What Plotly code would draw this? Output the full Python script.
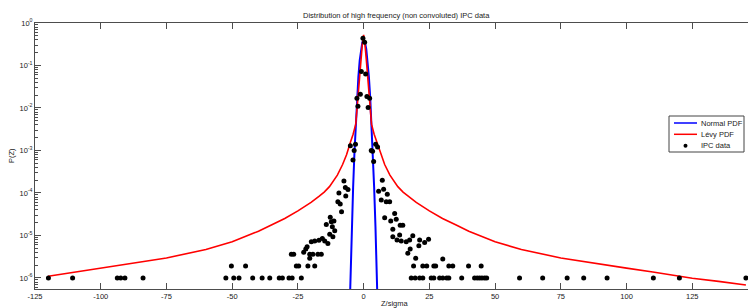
import plotly.graph_objects as go

# ---------------- data ----------------
# Normal PDF curve (Z/sigma, P)
normal_z = [-6, -5.5, -5, -4.5, -4, -3.5, -3, -2.5, -2, -1.5, -1, -0.5, 0,
            0.5, 1, 1.5, 2, 2.5, 3, 3.5, 4, 4.5, 5, 5.5, 6]
normal_p = [6.1e-9, 1.08e-7, 1.49e-6, 1.6e-5, 1.34e-4, 8.73e-4, 4.43e-3, 1.75e-2, 5.4e-2, 0.1295, 0.242, 0.352, 0.399,
            0.352, 0.242, 0.1295, 5.4e-2, 1.75e-2, 4.43e-3, 8.73e-4, 1.34e-4, 1.6e-5, 1.49e-6, 1.08e-7, 6.1e-9]

# Levy PDF curve (Z/sigma, P)
levy_z = [-120, -110, -100, -90, -75, -60, -50, -40, -35, -30, -25, -20, -17, -15, -13, -10, -8, -6.5, -5, -4, -3, -2, -1, -0.5, 0,
          0.5, 1, 2, 3, 4, 5, 6.5, 8, 10, 13, 15, 17, 20, 25, 30, 35, 40, 50, 60, 75, 90, 100, 110, 120, 125, 135, 145.4]
levy_p = [1.10e-6, 1.38e-6, 1.70e-6, 2.09e-6, 2.95e-6, 4.68e-6, 7.08e-6, 1.26e-5, 1.78e-5, 2.51e-5, 3.8e-5, 6.0e-5, 8.3e-5,
          1.05e-4, 1.41e-4, 2.63e-4, 4.68e-4, 7.94e-4, 1.58e-3, 2.40e-3, 4.17e-3, 2.82e-2, 0.141, 0.316, 0.525,
          0.316, 0.141, 2.82e-2, 4.17e-3, 2.40e-3, 1.58e-3, 7.94e-4, 4.68e-4, 2.63e-4, 1.41e-4, 1.05e-4, 8.3e-5,
          6.0e-5, 3.8e-5, 2.51e-5, 1.78e-5, 1.26e-5, 7.08e-6, 4.68e-6, 2.95e-6, 2.09e-6, 1.70e-6, 1.38e-6, 1.10e-6,
          9.8e-7, 8.3e-7, 6.8e-7]

# IPC data points
center_z = [-0.27, 0.38, -0.87, 0.76, -2.55, -1.25, -2.17, 1.25, 2.28, 1.71, -5.05, -3.1, -3.6, -4.07, 4.56, 5.3, 2.9, 3.4, 3.8]
center_p = [0.44, 0.35, 0.072, 0.063, 0.017, 0.021, 0.011, 0.0186, 0.017, 0.0103, 1.3e-3, 1.4e-3, 1.0e-3, 6e-4,
            1.4e-3, 1.2e-3, 1.0e-3, 9.6e-4, 5.5e-4]

left_z = [-7.5, -6.95, -5.96, -9.4, -6.8, -9.8, -8.9, -8.4, -12.7, -11.3, -12.3, -14.2, -11.9,
          -11.0, -12.9, -11.7, -13.6, -14.8, -15.7, -17.0, -18.6, -19.9, -21.5, -22.0, -22.8, -20.5,
          -27.5, -26.6, -20.5, -19.3, -17.4, -16.1,
          -25.6, -24.7, -21.2, -18.6, -50.3, -44.9,
          -42.2, -38.6, -35.7, -32.1, -30.9, -28.4, -27.2, -23.7,
          -119.9, -110.7, -93.7, -92.4, -90.8, -83.9, -52.4, -49.4, -47.4]
left_p = [1.9e-4, 1.35e-4, 1.2e-4, 1.0e-4, 8.5e-5, 6.2e-5, 5.5e-5, 3.6e-5, 2.7e-5, 2.2e-5, 2.1e-5, 1.8e-5, 1.6e-5,
          1.29e-5, 1.07e-5, 9.3e-6, 6.5e-6, 7.4e-6, 8.5e-6, 7.7e-6, 7.4e-6, 7.1e-6, 5.4e-6, 4.8e-6, 4.0e-6, 2.9e-6,
          3.6e-6, 3.6e-6, 3.6e-6, 3.6e-6, 3.6e-6, 3.6e-6,
          1.9e-6, 1.9e-6, 1.9e-6, 1.9e-6, 1.9e-6, 1.9e-6,
          1e-6, 1e-6, 1e-6, 1e-6, 1e-6, 1e-6, 1e-6, 1e-6,
          1e-6, 1e-6, 1e-6, 1e-6, 1e-6, 1e-6, 1e-6, 1e-6, 1e-6]

right_z = [7.1, 5.7, 7.6, 9.0, 6.7, 8.6, 9.9, 11.8, 8.0, 10.3, 12.4, 13.9, 14.9, 11.1,
           11.1, 13.7, 12.7, 14.3, 16.2, 17.5, 18.7, 17.7, 16.8, 21.3, 21.0, 23.2, 24.7, 19.8, 30.1,
           19.0, 22.5, 24.0, 26.7, 27.4, 32.4, 33.9, 39.9, 44.7,
           18.1, 19.6, 21.3, 22.5, 25.7, 26.7, 28.9, 30.1, 31.6, 32.4, 37.3, 42.2, 43.2, 44.1, 45.0, 46.0, 46.8,
           59.3, 68.1, 77.4, 83.7, 92.6, 110.2, 120.1, 145.4]
right_p = [2.0e-4, 1.1e-4, 1.23e-4, 9.3e-5, 6.8e-5, 6.2e-5, 6.2e-5, 3.3e-5, 2.6e-5, 2.2e-5, 2.4e-5, 1.74e-5, 1.74e-5, 1.4e-5,
           9.3e-6, 1.02e-5, 7.8e-6, 7.4e-6, 7.1e-6, 7.8e-6, 9.8e-6, 4.8e-6, 3.8e-6, 7.8e-6, 5.7e-6, 6.8e-6, 8.1e-6, 2.9e-6, 2.8e-6,
           1.9e-6, 1.9e-6, 1.9e-6, 1.9e-6, 1.9e-6, 1.9e-6, 1.9e-6, 1.9e-6, 1.9e-6,
           1e-6, 1e-6, 1e-6, 1e-6, 1e-6, 1e-6, 1e-6, 1e-6, 1e-6, 1e-6, 1e-6, 1e-6, 1e-6, 1e-6, 1e-6, 1e-6, 1e-6,
           1e-6, 1e-6, 1e-6, 1e-6, 1e-6, 1e-6, 1e-6, 1e-6]

x_tickvals = [-125, -100, -75, -50, -25, 0, 25, 50, 75, 100, 125, 150]
x_ticktext = ["-125", "-100", "-75", "-50", "-25", "0", "25", "50", "75", "100", "125", "150"]
y_exponents = [-6, -5, -4, -3, -2, -1, 0]

title_text = "Distribution of high frequency (non convoluted) IPC data"
series_names = ["Normal PDF", "Lévy PDF", "IPC data"]

# ---------------- figure ----------------
# The page body adds an 8 px offset; layout below is given in page pixels.
OFF = 8
W, H = 756, 308
PL, PR, PT, PB = 35, 758, 23, 289          # plot area in page pixels
L, R, T, B = PL - OFF, PR - OFF, PT - OFF, PB - OFF
FONT = "Liberation Sans, Arial, sans-serif"
FS = 7.5
AX = "#4d4d4d"
TXT = "#1a1a1a"

def pxx(x):
    return (x - PL) / (PR - PL)

def pxy(y):
    return (PB - y) / (PB - PT)

ipc_z = center_z + left_z + right_z
ipc_p = center_p + left_p + right_p

fig = go.Figure()
fig.add_trace(go.Scatter(x=normal_z, y=normal_p, mode="lines", name=series_names[0],
                         line=dict(color="#0000ff", width=2), showlegend=False))
fig.add_trace(go.Scatter(x=levy_z, y=levy_p, mode="lines", name=series_names[1],
                         line=dict(color="#ff0000", width=1.6), showlegend=False))
fig.add_trace(go.Scatter(x=ipc_z, y=ipc_p, mode="markers", name=series_names[2],
                         marker=dict(color="black", size=5), showlegend=False))

minor_vals = [m * 10.0 ** e for e in range(-7, 0) for m in range(2, 10)]

fig.update_layout(
    width=W, height=H,
    margin=dict(l=L, r=W - R, t=T, b=H - B, autoexpand=False),
    paper_bgcolor="white", plot_bgcolor="white",
    font=dict(family=FONT, size=FS, color=TXT),
    xaxis=dict(range=[-125, 150], tickvals=x_tickvals, ticktext=x_ticktext,
               showgrid=False, zeroline=False, showline=True, linecolor=AX, linewidth=1,
               mirror="ticks", ticks="inside", ticklen=6, tickcolor=AX, tickwidth=1,
               tickfont=dict(size=FS, color=TXT), automargin=False),
    yaxis=dict(type="log", range=[-6.26, 0],
               tickvals=[10.0 ** e for e in y_exponents],
               ticktext=["10<sup>%d</sup>" % e for e in y_exponents],
               showgrid=False, zeroline=False, showline=True, linecolor=AX, linewidth=1,
               mirror="ticks", ticks="inside", ticklen=6, tickcolor=AX, tickwidth=1,
               tickfont=dict(size=FS, color=TXT), automargin=False,
               minor=dict(tickvals=minor_vals, ticks="inside", ticklen=3, tickcolor=AX, tickwidth=1)),
)

annotations = [
    dict(text=title_text, x=pxx(396), y=pxy(15), xref="paper", yref="paper",
         showarrow=False, xanchor="center", yanchor="middle", font=dict(size=FS, color=TXT)),
    dict(text="Z/sigma", x=pxx(395), y=pxy(303), xref="paper", yref="paper",
         showarrow=False, xanchor="center", yanchor="middle", font=dict(size=FS, color=TXT)),
    dict(text="P(Z)", x=pxx(11), y=pxy(156), xref="paper", yref="paper", textangle=-90,
         showarrow=False, xanchor="center", yanchor="middle", font=dict(size=FS, color=TXT)),
]

# compact MATLAB-style legend
shapes = [
    dict(type="rect", xref="paper", yref="paper", x0=pxx(669), x1=pxx(744), y0=pxy(152), y1=pxy(116),
         line=dict(color="#444444", width=1), fillcolor="white", layer="above"),
    dict(type="line", xref="paper", yref="paper", x0=pxx(674), x1=pxx(697), y0=pxy(123), y1=pxy(123),
         line=dict(color="#0000ff", width=1.5), layer="above"),
    dict(type="line", xref="paper", yref="paper", x0=pxx(674), x1=pxx(697), y0=pxy(134.3), y1=pxy(134.3),
         line=dict(color="#ff0000", width=1.5), layer="above"),
    dict(type="circle", xref="paper", yref="paper", x0=pxx(683.5), x1=pxx(687.5), y0=pxy(147.7), y1=pxy(143.7),
         line=dict(color="black", width=0), fillcolor="black", layer="above"),
]
for name, yy in zip(series_names, [123, 134.3, 145.7]):
    annotations.append(dict(text=name, x=pxx(699), y=pxy(yy), xref="paper", yref="paper",
                            showarrow=False, xanchor="left", yanchor="middle",
                            font=dict(size=FS, color=TXT)))

fig.update_layout(annotations=annotations, shapes=shapes)
fig.write_html("out.html")
